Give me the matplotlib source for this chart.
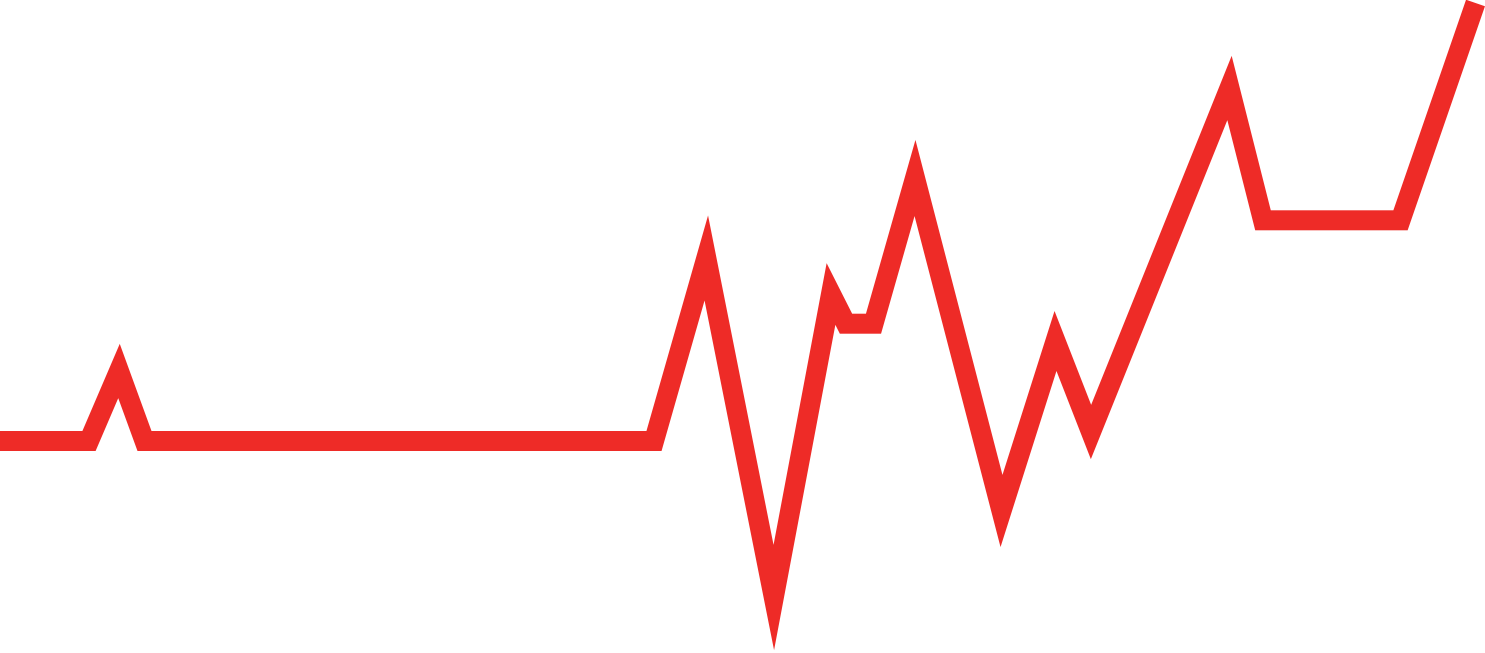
import matplotlib
matplotlib.use("Agg")
import matplotlib.pyplot as plt

# vertices of the trace (x across, value upward)
x = [0, 89, 119, 144.5, 654, 706.3, 773.8, 831, 846, 873.5, 915,
     1001.5, 1055.5, 1091, 1229.5, 1263, 1400.5, 1475.5]
y_from_top = [441, 441, 371, 441, 441, 258, 597.5, 294, 323.7, 323.7, 178,
              511, 341, 432, 88, 220.3, 220.3, 3]
values = [653 - v for v in y_from_top]

red = "#ee2b27"

fig = plt.figure(figsize=(14.85, 6.53), dpi=100)
ax = fig.add_axes([0, 0, 1, 1])
ax.set_xlim(0, 1485)
ax.set_ylim(0, 653)
ax.set_axis_off()

ax.plot(x, values, color=red, linewidth=14.4,
        solid_joinstyle="miter", solid_capstyle="butt")

plt.savefig("out.png", dpi=100)
